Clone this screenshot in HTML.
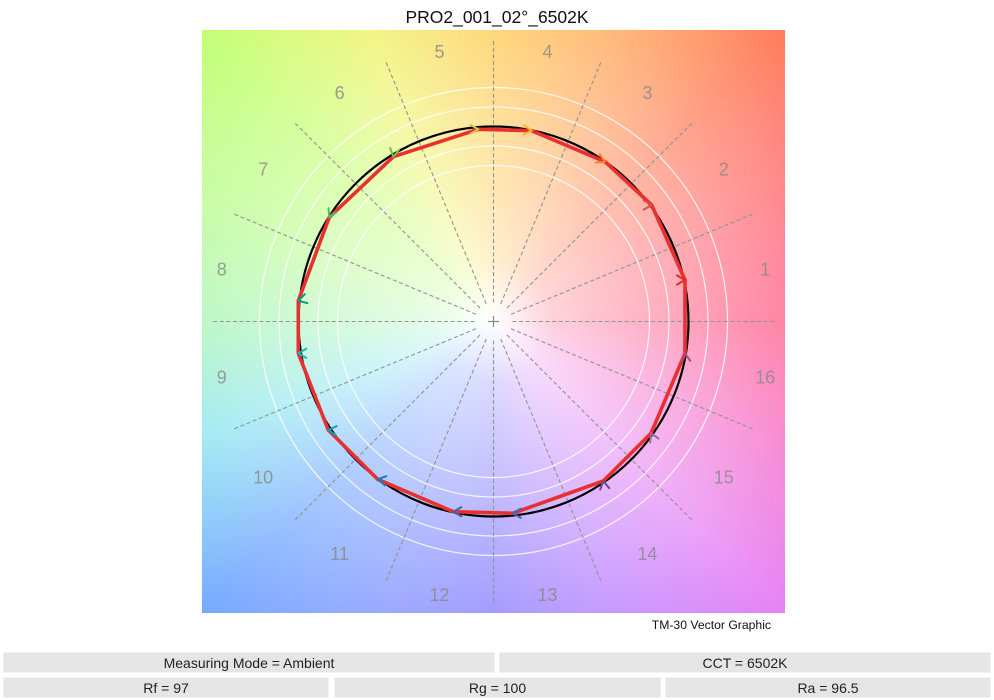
<!DOCTYPE html>
<html>
<head>
<meta charset="utf-8">
<style>
  html,body{margin:0;padding:0;background:#fff;}
  body{width:994px;height:700px;position:relative;overflow:hidden;font-family:"Liberation Sans",Arial,sans-serif;}
  #title{position:absolute;left:0;width:994px;top:6px;text-align:center;font-size:17.5px;color:#111;line-height:22px;}
  #plot{position:absolute;left:202px;top:30px;width:583px;height:583px;
    background:
      radial-gradient(circle at 291.5px 291.5px, rgba(255,255,255,1) 0px, rgba(255,255,255,0.72) 60px, rgba(255,255,255,0.28) 290px, rgba(255,255,255,0) 420px),
      conic-gradient(from 0deg at 291.5px 291.5px,
        #ffc84a 0deg, #ffa452 22deg, #ff7a58 45deg, #ff6670 67deg, #ff5683 90deg,
        #f66ac6 112deg, #e67ff5 135deg, #b67cff 158deg, #8176ff 180deg, #7a90ff 202deg,
        #72a8ff 225deg, #88e4f0 248deg, #a4f5b2 270deg, #b8fb8c 292deg, #c2ff72 315deg,
        #eef262 337deg, #ffc84a 360deg);
  }
  svg{position:absolute;left:0;top:0;}
  .box{position:absolute;background:#e5e5e5;border:1px solid #f3f3f3;box-sizing:border-box;
    font-size:14px;color:#222;text-align:center;}
</style>
</head>
<body>
<div id="title">PRO2_001_02°_6502K</div>
<div id="plot"></div>
<svg width="994" height="700" viewBox="0 0 994 700" xmlns="http://www.w3.org/2000/svg">
  <g fill="none" stroke="#ffffff" stroke-width="1.2" opacity="0.85">
    <circle cx="493.5" cy="321.5" r="156"/>
    <circle cx="493.5" cy="321.5" r="175.5"/>
    <circle cx="493.5" cy="321.5" r="214.5"/>
    <circle cx="493.5" cy="321.5" r="234"/>
  </g>
  <g transform="translate(493.5,321.5)" stroke="#929292" stroke-width="1.1" stroke-dasharray="4 2.6" fill="none">
    <line x1="19" y1="0" x2="281" y2="0" transform="rotate(0)"/>
    <line x1="19" y1="0" x2="281" y2="0" transform="rotate(22.5)"/>
    <line x1="19" y1="0" x2="281" y2="0" transform="rotate(45)"/>
    <line x1="19" y1="0" x2="281" y2="0" transform="rotate(67.5)"/>
    <line x1="19" y1="0" x2="281" y2="0" transform="rotate(90)"/>
    <line x1="19" y1="0" x2="281" y2="0" transform="rotate(112.5)"/>
    <line x1="19" y1="0" x2="281" y2="0" transform="rotate(135)"/>
    <line x1="19" y1="0" x2="281" y2="0" transform="rotate(157.5)"/>
    <line x1="19" y1="0" x2="281" y2="0" transform="rotate(180)"/>
    <line x1="19" y1="0" x2="281" y2="0" transform="rotate(202.5)"/>
    <line x1="19" y1="0" x2="281" y2="0" transform="rotate(225)"/>
    <line x1="19" y1="0" x2="281" y2="0" transform="rotate(247.5)"/>
    <line x1="19" y1="0" x2="281" y2="0" transform="rotate(270)"/>
    <line x1="19" y1="0" x2="281" y2="0" transform="rotate(292.5)"/>
    <line x1="19" y1="0" x2="281" y2="0" transform="rotate(315)"/>
    <line x1="19" y1="0" x2="281" y2="0" transform="rotate(337.5)"/>
  </g>
  <g stroke="#888" stroke-width="1.2">
    <line x1="488" y1="321.5" x2="499" y2="321.5"/>
    <line x1="493.5" y1="316" x2="493.5" y2="327"/>
  </g>
  <g font-family="Liberation Sans, Arial, sans-serif" font-size="18" fill="#878787" fill-opacity="0.8" text-anchor="middle" dominant-baseline="central">
    <text x="765.2" y="269.5">1</text>
    <text x="723.8" y="169.6">2</text>
    <text x="647.4" y="93.2">3</text>
    <text x="547.5" y="51.8">4</text>
    <text x="439.5" y="51.8">5</text>
    <text x="339.6" y="93.2">6</text>
    <text x="263.2" y="169.6">7</text>
    <text x="221.8" y="269.5">8</text>
    <text x="221.8" y="377.5">9</text>
    <text x="263.2" y="477.4">10</text>
    <text x="339.6" y="553.8">11</text>
    <text x="439.5" y="595.2">12</text>
    <text x="547.5" y="595.2">13</text>
    <text x="647.4" y="553.8">14</text>
    <text x="723.8" y="477.4">15</text>
    <text x="765.2" y="377.5">16</text>
  </g>
  <circle cx="493.5" cy="321.5" r="195" fill="none" stroke="#000" stroke-width="2.2"/>
  <polygon fill="none" stroke="#e8302f" stroke-width="3.6" stroke-linejoin="round"
    points="685,280 651.7,205 605,161.7 531.7,130.7 478.3,129.3 393.3,156.7 329.3,217.3 298.3,300.7 298.3,353.3 328.3,430 377.7,479.3 453.3,511.7 512.7,513.3 603.3,481 651,433.3 685,353.3"/>
  <g fill="none" stroke-width="2" stroke-linecap="round" stroke-linejoin="round">
    <path d="M-8,-4.6 L0,0 L-8,4.6" stroke="#e62828" transform="translate(685,280) rotate(0)"/>
    <path d="M-8,-4.6 L0,0 L-8,4.6" stroke="#e74b4b" transform="translate(651.7,205) rotate(0)"/>
    <path d="M-8,-4.6 L0,0 L-8,4.6" stroke="#fb812e" transform="translate(605,161.7) rotate(25)"/>
    <path d="M-8,-4.6 L0,0 L-8,4.6" stroke="#ffb529" transform="translate(531.7,130.7) rotate(5)"/>
    <path d="M-8,-4.6 L0,0 L-8,4.6" stroke="#cbca46" transform="translate(478.3,129.3) rotate(0)"/>
    <path d="M-8,-4.6 L0,0 L-8,4.6" stroke="#7eb94c" transform="translate(393.3,156.7) rotate(100)"/>
    <path d="M-8,-4.6 L0,0 L-8,4.6" stroke="#41c06d" transform="translate(329.3,217.3) rotate(115)"/>
    <path d="M-8,-4.6 L0,0 L-8,4.6" stroke="#009c7c" transform="translate(298.3,300.7) rotate(165)"/>
    <path d="M-8,-4.6 L0,0 L-8,4.6" stroke="#16bcb0" transform="translate(298.3,353.3) rotate(180)"/>
    <path d="M-8,-4.6 L0,0 L-8,4.6" stroke="#00a4bf" transform="translate(328.3,430) rotate(185)"/>
    <path d="M-8,-4.6 L0,0 L-8,4.6" stroke="#0085c3" transform="translate(377.7,479.3) rotate(190)"/>
    <path d="M-8,-4.6 L0,0 L-8,4.6" stroke="#3b62aa" transform="translate(453.3,511.7) rotate(180)"/>
    <path d="M-8,-4.6 L0,0 L-8,4.6" stroke="#4568ae" transform="translate(512.7,513.3) rotate(180)"/>
    <path d="M-8,-4.6 L0,0 L-8,4.6" stroke="#6a4e85" transform="translate(603.3,481) rotate(-100)"/>
    <path d="M-8,-4.6 L0,0 L-8,4.6" stroke="#9d69a1" transform="translate(651,433.3) rotate(-115)"/>
    <path d="M-8,-4.6 L0,0 L-8,4.6" stroke="#a74f81" transform="translate(685,353.3) rotate(-95)"/>
  </g>
  <text x="771" y="629" font-family="Liberation Sans, Arial, sans-serif" font-size="12.2" fill="#111" text-anchor="end">TM-30 Vector Graphic</text>
</svg>
<div class="box" style="left:3px;top:652px;width:492px;height:21px;line-height:20px;">Measuring Mode = Ambient</div>
<div class="box" style="left:499px;top:652px;width:492px;height:21px;line-height:20px;">CCT = 6502K</div>
<div class="box" style="left:3px;top:677px;width:326px;height:21px;line-height:20px;">Rf = 97</div>
<div class="box" style="left:334px;top:677px;width:327px;height:21px;line-height:20px;">Rg = 100</div>
<div class="box" style="left:665px;top:677px;width:326px;height:21px;line-height:20px;">Ra = 96.5</div>
</body>
</html>
